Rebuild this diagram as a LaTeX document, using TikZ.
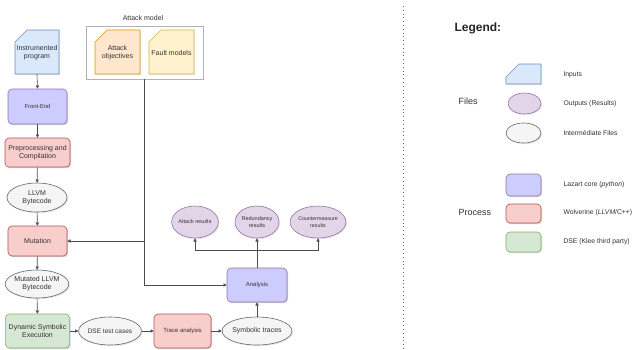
\documentclass[tikz,border=0pt]{standalone}
\usepackage{fontspec}
\setmainfont{Liberation Sans}
\usetikzlibrary{arrows.meta,shadows,shapes.geometric}
\definecolor{inF}{HTML}{DAE8FC}\definecolor{inD}{HTML}{6C8EBF}
\definecolor{lzF}{HTML}{CCCCFF}\definecolor{lzD}{HTML}{9673A6}
\definecolor{wvF}{HTML}{F8CECC}\definecolor{wvD}{HTML}{B85450}
\definecolor{dsF}{HTML}{D5E8D4}\definecolor{dsD}{HTML}{82B366}
\definecolor{ouF}{HTML}{E1D5E7}\definecolor{ouD}{HTML}{9673A6}
\definecolor{imF}{HTML}{F5F5F5}\definecolor{imD}{HTML}{666666}
\definecolor{aoF}{HTML}{FFE6CC}\definecolor{aoD}{HTML}{D79B00}
\definecolor{fmF}{HTML}{FFF2CC}\definecolor{fmD}{HTML}{D6B656}
\definecolor{lineC}{HTML}{4D4D4D}
\definecolor{txt}{HTML}{333333}
\tikzset{
  x=1pt, y=-1pt,
  shad/.style={drop shadow={opacity=0.18, shadow xshift=1pt, shadow yshift=-1.2pt}},
  procbox/.style={rounded corners=4pt, minimum width=59pt, minimum height=#1, align=center, text=txt, line width=0.6pt, shad},
  procbox/.default=30pt,
  lazart/.style={procbox, fill=lzF, draw=lzD},
  wolv/.style={procbox, fill=wvF, draw=wvD},
  dse/.style={procbox, fill=dsF, draw=dsD},
  ellout/.style={ellipse, fill=ouF, draw=ouD, line width=0.6pt, inner sep=0pt, align=center, text=txt, shad},
  ellint/.style={ellipse, fill=imF, draw=imD, line width=0.6pt, inner sep=0pt, align=center, text=txt, shad},
  conn/.style={draw=lineC, line width=0.6pt, -{Triangle[length=3.2pt,width=3.2pt]}},
  plain/.style={draw=lineC, line width=0.6pt},
  lbl/.style={anchor=west, text=txt, font=\fontsize{6.8}{8}\selectfont},
}
% card shape helper
\newcommand{\cardshape}[7]{% x1,y1,x2,y2,cut,fill,draw
  \fill[#6, draw=#7, line width=0.6pt, shad] (#1+#5,#2) -- (#3,#2) -- (#3,#4) -- (#1,#4) -- (#1,#2+#5) -- cycle;}
\begin{document}
\begin{tikzpicture}
\useasboundingbox (0,0) rectangle (636,349);
\fill[white] (0,0) rectangle (636,349);

% ---- Attack model group
\node[text=txt, font=\fontsize{7}{8}\selectfont] (amlabel) at (143,18) {Attack model};
\node[draw=black!30, fill=white, line width=0.6pt, minimum width=117pt, minimum height=53pt, inner sep=0pt] (am) at (144.5,52.5) {};
\cardshape{95}{30}{140}{74}{12}{aoF}{aoD}
\node[align=center, text=txt, font=\fontsize{7}{8.2}\selectfont] (ao) at (117.5,53) {Attack\\objectives};
\cardshape{149}{30}{194}{74}{12}{fmF}{fmD}
\node[align=center, text=txt, font=\fontsize{7}{8.2}\selectfont] (fm) at (171.5,52.5) {Fault models};

% ---- left pipeline
\cardshape{15}{30}{59}{74}{12}{inF}{inD}
\node[inner sep=0pt, minimum width=44pt, minimum height=44pt] (ip) at (37,52) {};
\node[align=center, text=txt, font=\fontsize{7}{8.2}\selectfont] (iptext) at (37,53) {Instrumented\\program};

\node[lazart, procbox=35pt, font=\fontsize{5.8}{7}\selectfont] (fe) at (37.5,106.5) {Front-End};
\node[wolv, procbox=29pt, font=\fontsize{7}{8.2}\selectfont] (pp) at (37.5,152.5) {Preprocessing and\\Compilation};
\node[ellint, minimum width=60pt, minimum height=29pt, font=\fontsize{7}{8.2}\selectfont] (llvm) at (37,197.5) {LLVM\\Bytecode};
\node[wolv, procbox=30pt, font=\fontsize{7}{8.2}\selectfont] (mut) at (37.5,241) {Mutation};
\node[ellint, minimum width=60pt, minimum height=28pt, font=\fontsize{7}{8.2}\selectfont] (mllvm) at (37,284) {Mutated LLVM\\Bytecode};
\node[dse, procbox=34pt, font=\fontsize{7}{8.2}\selectfont] (dyn) at (37.5,331) {Dynamic Symbolic\\Execution};

\node[ellint, minimum width=59pt, minimum height=28pt, font=\fontsize{6.5}{8}\selectfont] (dtc) at (110,331) {DSE test cases};
\node[wolv, procbox=34pt, minimum width=57pt, font=\fontsize{6}{7}\selectfont] (ta) at (182.5,331) {Trace analysis};
\node[ellint, minimum width=60pt, minimum height=28pt, font=\fontsize{7}{8.2}\selectfont] (st) at (257,331) {Symbolic traces};
\node[lazart, procbox=34pt, minimum width=60pt, font=\fontsize{6}{7}\selectfont] (an) at (257,285) {Analysis};

\node[ellout, minimum width=43pt, minimum height=32pt, font=\fontsize{5.5}{6.6}\selectfont] (ar) at (195,222) {Attack results};
\node[ellout, minimum width=44pt, minimum height=32pt, font=\fontsize{5.5}{6.6}\selectfont] (rr) at (257,222) {Redundancy\\results};
\node[ellout, minimum width=43pt, minimum height=32pt, font=\fontsize{5.3}{6.4}\selectfont] (cr) at (318,222) {Countermeasure\\results};

% ---- connectors
\draw[conn] (ip.south) -- (fe.north);
\draw[conn] (fe) -- (pp);
\draw[conn] (pp) -- (llvm);
\draw[conn] (llvm) -- (mut);
\draw[conn] (mut) -- (mllvm);
\draw[conn] (mllvm) -- (dyn);
\draw[conn] (dyn) -- (dtc);
\draw[conn] (dtc) -- (ta);
\draw[conn] (ta) -- (st);
\draw[conn] (st) -- (an);
\coordinate (amb) at (144,79);
\coordinate (amj) at (144,241);
\coordinate (amc) at (144,285);
\draw[plain] (am.south -| amb) -- (amc);
\draw[conn] (amj) -- (mut.east);
\draw[conn] (amc) -- (an.west);
\coordinate (br) at (257,250);
\draw[conn] (an.north) -- (rr.south);
\draw[conn] (br) -| (ar.south);
\draw[conn] (br) -| (cr.south);

% ---- separator
\coordinate (sep1) at (403,6);
\coordinate (sep2) at (403,349);
\draw[black!60, line width=0.7pt, dash pattern=on 0.8pt off 3pt] (sep1) -- (sep2);

% ---- legend
\node[anchor=west, font=\bfseries\fontsize{12}{14}\selectfont, text=black!85] (leg) at (451,28) {Legend:};
\node[anchor=west, text=txt, font=\fontsize{9}{11}\selectfont] (files) at (455,101) {Files};
\node[anchor=west, text=txt, font=\fontsize{9}{11}\selectfont] (proc) at (455,212) {Process};

\cardshape{506}{64}{541}{84}{13}{inF}{inD}
\node[lbl] (l1) at (560,75) {Inputs};
\node[ellout, minimum width=33pt, minimum height=21pt] (le2) at (524.5,103.5) {};
\node[lbl] (l2) at (560,104) {Outputs (Results)};
\node[ellint, minimum width=35pt, minimum height=20pt] (le3) at (523.5,133) {};
\node[lbl] (l3) at (560,133) {Intermédiate Files};

\node[lazart, procbox=22pt, minimum width=35pt] (lp1) at (523.5,185) {};
\node[lbl] (p1) at (560,185) {Lazart core (\textit{python})};
\node[wolv, procbox=19pt, minimum width=35pt] (lp2) at (523.5,213.5) {};
\node[lbl] (p2) at (560,213) {Wolverine (\textit{LLVM}/C++)};
\node[dse, procbox=20pt, minimum width=35pt] (lp3) at (523.5,242) {};
\node[lbl] (p3) at (560,242) {DSE (Klee third party)};
\end{tikzpicture}
\end{document}
